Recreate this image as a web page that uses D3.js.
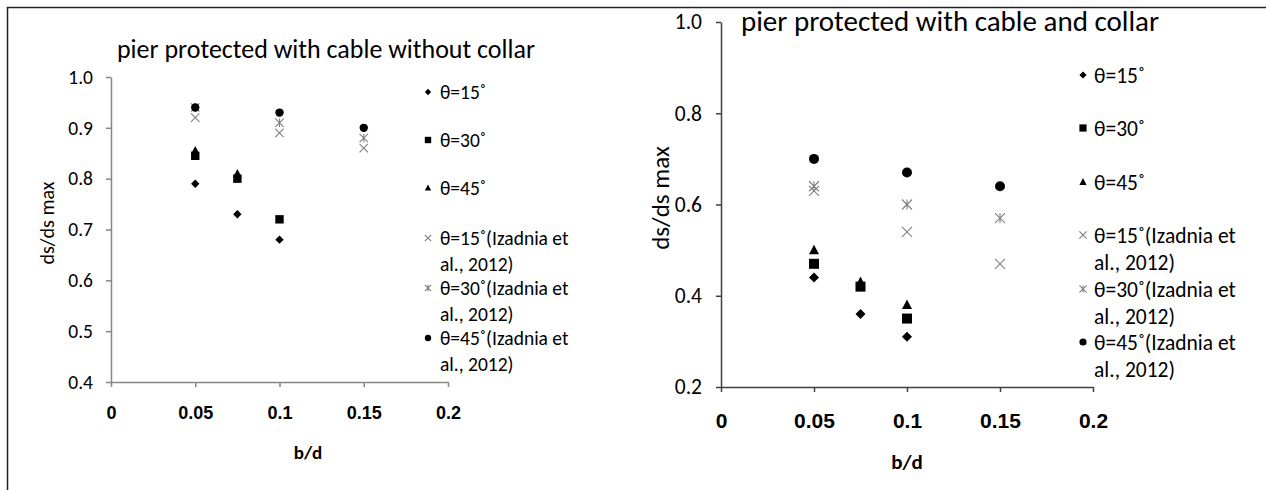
<!DOCTYPE html>
<html>
<head>
  <meta charset="utf-8">
  <title></title>
  <script src="https://cdn.jsdelivr.net/npm/d3@7"></script>
  <style type="text/css">
    body {
      margin: 0;
      background-color: white;
    }

    .cal {
      font-family: 'Carlito', 'Liberation Sans Narrow', 'Roboto', sans-serif;
    }

    .calb {
      font-family: 'Carlito', 'Liberation Sans Narrow', 'Roboto', sans-serif;
      font-weight: bold;
    }

    .arialb {
      font-family: 'Liberation Sans', Arial, sans-serif;
      font-weight: bold;
    }
  </style>
</head>
<body>
  <div class="chart"></div>

  <script type="text/javascript">

    // x values (b/d) for this study and for Izadnia et al.
    var bd = [0.05, 0.075, 0.1];
    var bdIzadnia = [0.05, 0.1, 0.15];

    var seriesNames = ['θ=15˚', 'θ=30˚', 'θ=45˚',
      'θ=15˚(Izadnia et al., 2012)', 'θ=30˚(Izadnia et al., 2012)', 'θ=45˚(Izadnia et al., 2012)'];

    // pier protected with cable without collar
    var noCollar15 = [0.79, 0.73, 0.68];
    var noCollar30 = [0.845, 0.80, 0.72];
    var noCollar45 = [0.855, 0.81, null];
    var noCollarIz15 = [0.92, 0.89, 0.86];
    var noCollarIz30 = [0.94, 0.91, 0.88];
    var noCollarIz45 = [0.94, 0.93, 0.90];

    // pier protected with cable and collar
    var collar15 = [0.44, 0.36, 0.31];
    var collar30 = [0.47, 0.42, 0.35];
    var collar45 = [0.50, 0.43, 0.38];
    var collarIz15 = [0.63, 0.54, 0.47];
    var collarIz30 = [0.64, 0.60, 0.57];
    var collarIz45 = [0.70, 0.67, 0.64];

    var xTicks = [0, 0.05, 0.1, 0.15, 0.2];
    var xTickLabels = ['0', '0.05', '0.1', '0.15', '0.2'];
    var leftYTicks = [0.4, 0.5, 0.6, 0.7, 0.8, 0.9, 1.0];
    var rightYTicks = [0.2, 0.4, 0.6, 0.8, 1.0];

    var markerKinds = ['diamond', 'square', 'triangle', 'x', 'star', 'circle'];

    var svg = d3.select('.chart').append('svg')
      .attr('width', 1266).attr('height', 490);

    svg.append('rect').attr('width', 1266).attr('height', 490).attr('fill', 'white');

    // outer frame (left + top edge)
    svg.append('path')
      .attr('d', 'M7.5,490 L7.5,7.5 L1266,7.5')
      .attr('fill', 'none')
      .attr('stroke', '#222')
      .attr('stroke-width', 1.5);

    function markerPath(kind, r) {
      if (kind === 'diamond') return 'M0,' + (-r) + 'L' + r + ',0L0,' + r + 'L' + (-r) + ',0Z';
      if (kind === 'square') return 'M' + (-r) + ',' + (-r) + 'h' + 2 * r + 'v' + 2 * r + 'h' + (-2 * r) + 'Z';
      if (kind === 'triangle') return 'M0,' + (-r * 1.1) + 'L' + r + ',' + r * 0.8 + 'L' + (-r) + ',' + r * 0.8 + 'Z';
      if (kind === 'x') return 'M' + (-r) + ',' + (-r) + 'L' + r + ',' + r + 'M' + (-r) + ',' + r + 'L' + r + ',' + (-r);
      if (kind === 'star') return 'M' + (-r) + ',' + (-r) + 'L' + r + ',' + r + 'M' + (-r) + ',' + r + 'L' + r + ',' + (-r) +
        'M0,' + (-r) + 'L0,' + r;
      // circle
      return 'M' + (-r) + ',0A' + r + ',' + r + ' 0 1,0 ' + r + ',0A' + r + ',' + r + ' 0 1,0 ' + (-r) + ',0Z';
    }

    function styleMarker(sel, kind) {
      if (kind === 'x' || kind === 'star') {
        sel.attr('fill', 'none').attr('stroke', '#7f7f7f').attr('stroke-width', 1.1);
      } else {
        sel.attr('fill', '#000').attr('stroke', 'none');
      }
    }

    function drawPanel(p) {
      var x = d3.scaleLinear().domain([0, 0.2]).range([p.x0, p.x1]);
      var y = d3.scaleLinear().domain(p.yDomain).range([p.y0, p.y1]);

      var g = svg.append('g');

      var yAxis = d3.axisLeft(y)
        .tickValues(p.yTicks)
        .tickFormat(d3.format('.1f'))
        .tickSizeInner(5)
        .tickSizeOuter(0)
        .tickPadding(p.yPad);

      var xAxis = d3.axisBottom(x)
        .tickValues(xTicks)
        .tickFormat(function (d, i) { return xTickLabels[i]; })
        .tickSizeInner(5)
        .tickSizeOuter(0);

      var ya = g.append('g')
        .attr('transform', 'translate(' + p.x0 + ',0)')
        .call(yAxis);
      ya.selectAll('.tick text')
        .attr('class', 'cal')
        .style('font-size', p.yTickSize + 'px')
        .attr('fill', '#000');

      var xa = g.append('g')
        .attr('transform', 'translate(0,' + p.y0 + ')')
        .call(xAxis);
      xa.selectAll('.tick text')
        .attr('class', 'arialb')
        .style('font-size', p.xTickSize + 'px')
        .attr('y', p.xLabelOff)
        .attr('dy', '0.35em')
        .attr('fill', '#000');

      g.selectAll('.domain, .tick line')
        .attr('stroke', p.axisColor)
        .attr('stroke-width', 1.5);

      // title
      g.append('text')
        .attr('class', 'cal')
        .attr('x', p.titleX).attr('y', p.titleY)
        .attr('text-anchor', 'middle')
        .style('font-size', p.titleSize + 'px')
        .text(p.title);

      // axis titles
      g.append('text')
        .attr('class', 'calb')
        .attr('x', p.bdX).attr('y', p.bdY)
        .attr('text-anchor', 'middle')
        .attr('dy', '0.35em')
        .style('font-size', p.bdSize + 'px')
        .text('b/d');

      g.append('text')
        .attr('class', 'cal')
        .attr('transform', 'translate(' + p.ylabX + ',' + p.ylabY + ') rotate(-90)')
        .attr('text-anchor', 'middle')
        .attr('dy', '0.35em')
        .style('font-size', p.ylabSize + 'px')
        .text('ds/ds max');

      // points, series drawn in order
      p.series.forEach(function (vals, si) {
        var xs = si < 3 ? bd : bdIzadnia;
        var kind = markerKinds[si];
        var pts = vals.map(function (v, i) { return { x: xs[i], v: v }; })
          .filter(function (d) { return d.v !== null; });
        var m = g.append('g').selectAll('path')
          .data(pts).enter().append('path')
          .attr('transform', function (d) { return 'translate(' + x(d.x) + ',' + y(d.v) + ')'; })
          .attr('d', markerPath(kind, p.markR));
        styleMarker(m, kind);
      });

      // legend, the Izadnia entries wrap onto a second line
      var lg = g.append('g');
      seriesNames.forEach(function (name, si) {
        var kind = markerKinds[si];
        var ly = p.legendY[si];
        var mk = lg.append('path')
          .attr('transform', 'translate(' + p.legendMX + ',' + ly + ')')
          .attr('d', markerPath(kind, p.legendR));
        styleMarker(mk, kind);
        lg.append('text')
          .attr('class', 'cal')
          .attr('x', p.legendTX).attr('y', ly)
          .attr('dy', '0.35em')
          .style('font-size', p.legendSize + 'px')
          .text(si < 3 ? name : name.replace(' al., 2012)', ''));
        if (si >= 3) {
          lg.append('text')
            .attr('class', 'cal')
            .attr('x', p.legendTX).attr('y', ly + p.legendWrap)
            .attr('dy', '0.35em')
            .style('font-size', p.legendSize + 'px')
            .text('al., 2012)');
        }
      });
    }

    drawPanel({
      x0: 111, x1: 448, y0: 382, y1: 77,
      yDomain: [0.4, 1.0], yTicks: leftYTicks, yPad: 13, yTickSize: 19.5,
      xTickSize: 18, xLabelOff: 31, axisColor: '#868686',
      title: 'pier protected with cable without collar',
      titleX: 326, titleY: 58, titleSize: 26,
      bdX: 308, bdY: 452, bdSize: 19,
      ylabX: 47, ylabY: 223, ylabSize: 20,
      series: [noCollar15, noCollar30, noCollar45, noCollarIz15, noCollarIz30, noCollarIz45],
      markR: 4.2,
      legendMX: 428, legendTX: 440, legendR: 3.2, legendSize: 19.5, legendWrap: 26,
      legendY: [92, 140, 188, 238, 288, 338]
    });

    drawPanel({
      x0: 721, x1: 1093, y0: 387, y1: 22,
      yDomain: [0.2, 1.0], yTicks: rightYTicks, yPad: 14, yTickSize: 21.5,
      xTickSize: 21, xLabelOff: 34, axisColor: '#404040',
      title: 'pier protected with cable and collar',
      titleX: 950, titleY: 31, titleSize: 29,
      bdX: 907, bdY: 462, bdSize: 21,
      ylabX: 660, ylabY: 198, ylabSize: 25,
      series: [collar15, collar30, collar45, collarIz15, collarIz30, collarIz45],
      markR: 5,
      legendMX: 1083, legendTX: 1094, legendR: 3.6, legendSize: 21.5, legendWrap: 27,
      legendY: [75, 128, 182, 235, 289, 342]
    });
  </script>
</body>
</html>
